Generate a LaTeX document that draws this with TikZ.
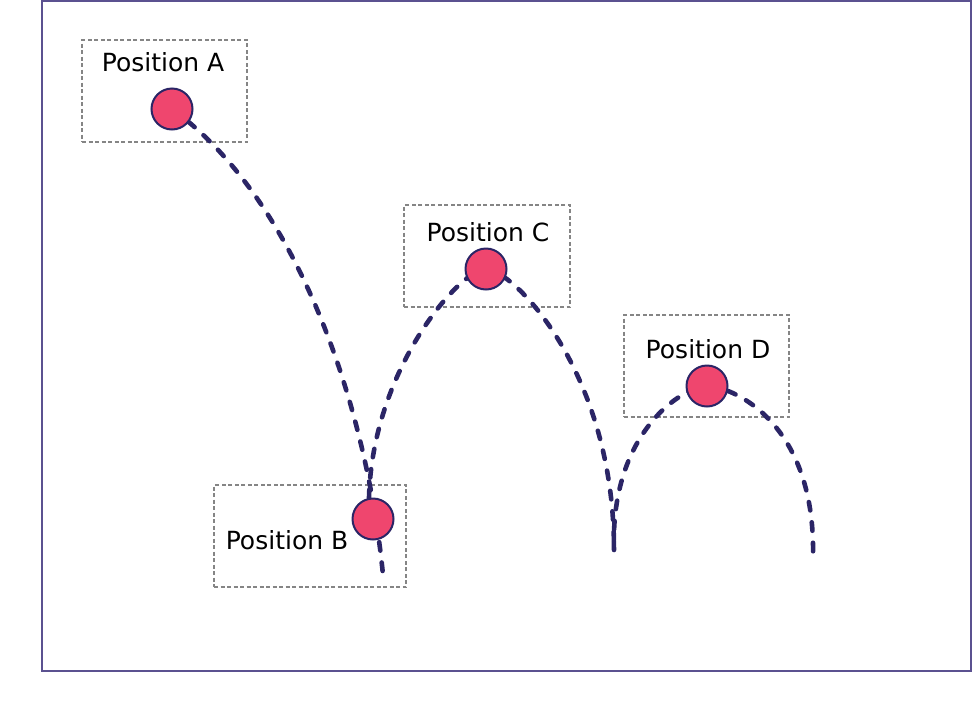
\documentclass[tikz,border=0pt]{standalone}
\usepackage{fontspec}
\setmainfont{DejaVu Sans}
\usepackage{tikz}
\definecolor{framecol}{HTML}{5B5190}
\definecolor{trackcol}{HTML}{2B2566}
\definecolor{ballcol}{HTML}{EF466E}
\definecolor{boxcol}{HTML}{858585}

\begin{document}
\begin{tikzpicture}[x=1pt, y=-1pt,
		posbox/.style={draw=boxcol, line width=1.3pt, dash pattern=on 4pt off 2.5pt, minimum height=102pt, inner sep=0pt},
		poslabel/.style={font=\fontsize{25}{30}\selectfont, text=black, inner sep=0pt},
		ball/.style={circle, draw=trackcol, fill=ballcol, line width=2pt, minimum size=41pt, inner sep=0pt},
		track/.style={draw=trackcol, line width=4.6pt, line cap=round, dash pattern=on 8.5pt off 12pt}]
	\useasboundingbox (0,0) rectangle (979,710);
	\draw[framecol, line width=2pt] (42,1) rectangle (971,671);
	% dashed boxes round the positions
	\node[posbox, minimum width=165pt] (boxA) at (164.5,91) {};
	\node[posbox, minimum width=192pt] (boxB) at (310,536) {};
	\node[posbox, minimum width=166pt] (boxC) at (487,256) {};
	\node[posbox, minimum width=165pt] (boxD) at (706.5,366) {};
	\node[poslabel] (labA) at (163,62) {Position A};
	\node[poslabel] (labB) at (287,540) {Position B};
	\node[poslabel] (labC) at (488,232) {Position C};
	\node[poslabel] (labD) at (708,349) {Position D};
	% where the ball is, and where the bounces end
	\coordinate (pA) at (172,109);
	\coordinate (pB) at (373,519);
	\coordinate (pC) at (486,269);
	\coordinate (pD) at (707,386);
	\coordinate (endB) at (383,575);
	\coordinate (startC) at (369,498);
	\coordinate (endC) at (614,550);
	\coordinate (endD) at (813,557);
	% the track of the ball
	\draw[track] (pA) .. controls (295,198) and (366,400) .. (endB);
	\draw[track] (startC) .. controls (372,370) and (460,269) .. (pC)
		.. controls (512,269) and (614,370) .. (endC);
	\draw[track] (endC) .. controls (610,430) and (685,386) .. (pD)
		.. controls (730,386) and (816,420) .. (endD);
	% the ball
	\node[ball] (ballA) at (pA) {};
	\node[ball] (ballB) at (pB) {};
	\node[ball] (ballC) at (pC) {};
	\node[ball] (ballD) at (pD) {};
\end{tikzpicture}
\end{document}
